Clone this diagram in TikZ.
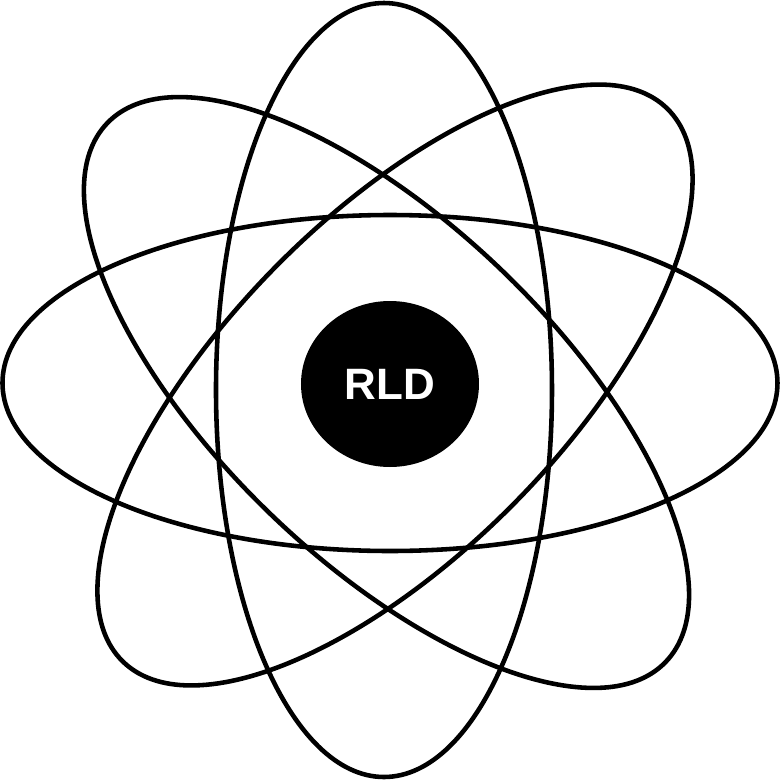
\documentclass[tikz,border=0pt]{standalone}
\usepackage{fontspec}
\setmainfont{Liberation Sans}
\usetikzlibrary{shapes.geometric}
\tikzset{
  orbit/.style={line width=1.3pt},
  nucleus/.style={ellipse, fill=black, minimum width=1.78cm, minimum height=1.66cm,
    inner sep=0pt, text=white, font=\fontsize{12.5}{14}\selectfont\bfseries}
}
\begin{document}
\begin{tikzpicture}
    \useasboundingbox (-3.89,-3.95) rectangle (3.92,3.86);
    % 1. Quỹ đạo
    \draw[orbit] (0.01,0.03) ellipse [x radius=3.875, y radius=1.68];
    \draw[orbit] (-0.05,-0.04) ellipse [x radius=1.68, y radius=3.87];
    \draw[orbit, rotate around={-44:(-0.025,-0.065)}] (-0.025,-0.065) ellipse [x radius=3.88, y radius=1.68];
    \draw[orbit, rotate around={45.4:(0.06,0.01)}] (0.06,0.01) ellipse [x radius=3.88, y radius=1.68];

    % 2. Hạt nhân
    \node[nucleus] (rld) at (0.01,0.02) {RLD};
\end{tikzpicture}
\end{document}
